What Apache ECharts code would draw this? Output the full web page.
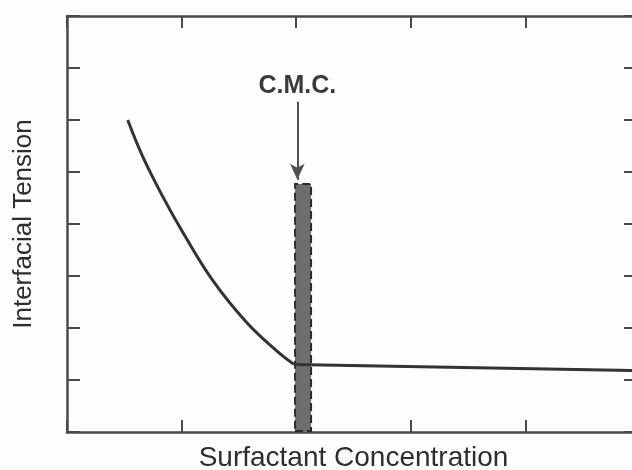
<!DOCTYPE html>
<html>
<head>
<meta charset="utf-8">
<script src="https://cdn.jsdelivr.net/npm/echarts@6/dist/echarts.min.js"></script>
<style>
  html, body { margin: 0; padding: 0; background: #fdfdfd; }
  #chart { width: 632px; height: 470px; }
</style>
</head>
<body>
<div id="chart"></div>
<script>
// values (axis units: x 0..5, y 0..8)
const curveX = [0.53, 0.66, 0.83, 1.0, 1.27, 1.57, 1.83, 1.98];
const curveY = [6.0, 5.3, 4.55, 3.88, 2.92, 2.1, 1.56, 1.3];
const plateauX = [1.98, 5];
const plateauY = [1.3, 1.18];
const cmcBarX = [2.06];
const cmcBarY = [4.79];
const arrowX = [2.01, 2.01];
const arrowY = [6.35, 4.85];
const cmcLabel = "C.M.C.";

const ink = "#333";
const frame = "#4a4a4a";

const el = document.getElementById("chart");
const chart = echarts.init(el);

const tickInside = (len) => ({ show: true, inside: true, length: len, lineStyle: { color: frame, width: 2 } });

const baseX = {
  type: "value",
  min: 0,
  max: 5,
  interval: 1,
  axisLine: { show: true, onZero: false, lineStyle: { color: frame, width: 2.5 } },
  axisLabel: { show: false },
  splitLine: { show: false },
};
const baseY = {
  type: "value",
  min: 0,
  max: 8,
  interval: 1,
  axisLine: { show: true, onZero: false, lineStyle: { color: frame, width: 2.5 } },
  axisLabel: { show: false },
  splitLine: { show: false },
};

const option = {
  backgroundColor: "#fdfdfd",
  animation: false,
  grid: { left: 67, right: -8, top: 16, bottom: 38, containLabel: false, outerBoundsMode: "none" },
  xAxis: [
    {
      ...baseX,
      position: "bottom",
      axisTick: tickInside(12),
      name: "Surfactant Concentration",
      nameLocation: "middle",
      nameGap: 12,
      nameTextStyle: { fontFamily: "Liberation Sans", fontSize: 28, color: "#2e2e2e" },
    },
    { ...baseX, position: "top", axisTick: tickInside(12) },
  ],
  yAxis: [
    {
      ...baseY,
      position: "left",
      axisTick: tickInside(13),
      name: "Interfacial Tension",
      nameLocation: "middle",
      nameGap: 30,
      nameTextStyle: { fontFamily: "Liberation Sans", fontSize: 26, color: "#2e2e2e" },
    },
    { ...baseY, position: "right", axisTick: tickInside(16) },
  ],
  series: [
    {
      name: "cmc",
      type: "bar",
      data: cmcBarX.map((x, i) => [x, cmcBarY[i]]),
      barWidth: 18,
      itemStyle: {
        color: "#6e6e6e",
        borderColor: "#2a2a2a",
        borderWidth: 2,
        borderType: "dashed",
      },
      z: 2,
    },
    {
      name: "curve",
      type: "line",
      data: curveX.map((x, i) => [x, curveY[i]]),
      smooth: 0.4,
      symbol: "none",
      lineStyle: { color: ink, width: 3 },
      z: 3,
    },
    {
      name: "plateau",
      type: "line",
      data: plateauX.map((x, i) => [x, plateauY[i]]),
      symbol: "none",
      lineStyle: { color: ink, width: 3 },
      z: 3,
      markLine: {
        silent: true,
        symbolSize: [11, 16],
        lineStyle: { color: "#505050", width: 2, type: "solid" },
        label: {
          show: true,
          position: "start",
          formatter: cmcLabel,
          fontFamily: "Liberation Sans",
          fontWeight: "bold",
          fontSize: 25,
          color: "#3a3a3a",
          distance: 3,
        },
        data: [
          [
            { coord: [arrowX[0], arrowY[0]], symbol: "none" },
            { coord: [arrowX[1], arrowY[1]], symbol: "arrow" },
          ],
        ],
      },
    },
  ],
};

chart.setOption(option);
</script>
</body>
</html>
